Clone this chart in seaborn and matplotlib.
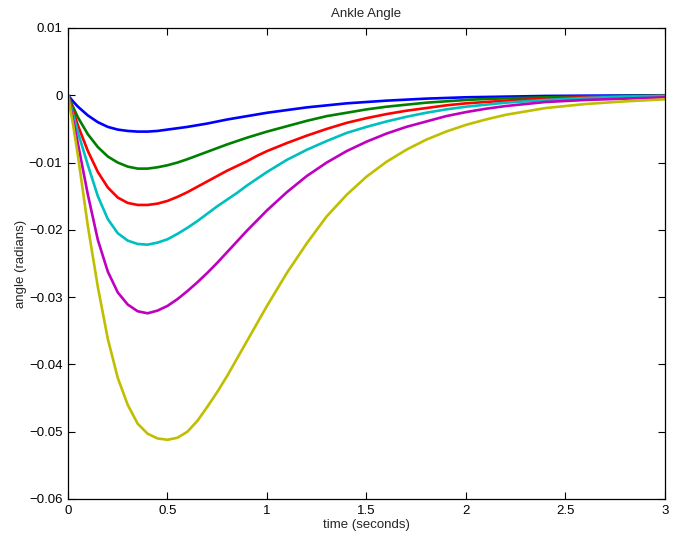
import numpy as np
import pandas as pd
import seaborn as sns
import matplotlib
matplotlib.use("Agg")
import matplotlib.pyplot as plt
from matplotlib.ticker import FuncFormatter

# time samples (seconds)
t = [0, 0.025, 0.05, 0.1, 0.15, 0.2, 0.25, 0.3, 0.35, 0.4, 0.45, 0.5, 0.55,
     0.6, 0.65, 0.7, 0.75, 0.8, 0.85, 0.9, 0.95, 1.0, 1.1, 1.2, 1.3, 1.4,
     1.5, 1.6, 1.7, 1.8, 1.9, 2.0, 2.1, 2.2, 2.4, 2.6, 2.8, 3.0]

blue = [0, -0.0009, -0.0017, -0.0030, -0.0040, -0.0047, -0.0051, -0.0053,
        -0.0054, -0.0054, -0.0053, -0.0051, -0.0049, -0.0047, -0.00445,
        -0.0042, -0.0039, -0.0036, -0.00335, -0.0031, -0.00285, -0.0026,
        -0.0022, -0.0018, -0.0015, -0.0012, -0.0010, -0.0008, -0.00065,
        -0.0005, -0.0004, -0.0003, -0.00025, -0.0002, -0.0001, -0.00006,
        -0.00003, 0]
green = [0, -0.0017, -0.0033, -0.0058, -0.0077, -0.0091, -0.0100, -0.0106,
         -0.0109, -0.0109, -0.0107, -0.0104, -0.0100, -0.0095, -0.00895,
         -0.0084, -0.00785, -0.0073, -0.0068, -0.0063, -0.00585, -0.0054,
         -0.0046, -0.0038, -0.0031, -0.0026, -0.0021, -0.0017, -0.0014,
         -0.0011, -0.0009, -0.0007, -0.00055, -0.00045, -0.0003, -0.0002,
         -0.0001, -0.00005]
red = [0, -0.0023, -0.0045, -0.0083, -0.0114, -0.0137, -0.0152, -0.0160,
       -0.0163, -0.0163, -0.0161, -0.0157, -0.0151, -0.0144, -0.0136,
       -0.0128, -0.0120, -0.0112, -0.0105, -0.0098, -0.0090, -0.0083,
       -0.0071, -0.0060, -0.0050, -0.0041, -0.0034, -0.0028, -0.0023,
       -0.0019, -0.0015, -0.0012, -0.0010, -0.0008, -0.0005, -0.0003,
       -0.0002, -0.0001]
cyan = [0, -0.0028, -0.0055, -0.0104, -0.0150, -0.0184, -0.0205, -0.0216,
        -0.0221, -0.0222, -0.0219, -0.0214, -0.0206, -0.0197, -0.0187,
        -0.0176, -0.0165, -0.0155, -0.0145, -0.0134, -0.0124, -0.0114,
        -0.0096, -0.0081, -0.0068, -0.0056, -0.0047, -0.0039, -0.0032,
        -0.0026, -0.0021, -0.0017, -0.0014, -0.0011, -0.0007, -0.0004,
        -0.0002, -0.0001]
magenta = [0, -0.0036, -0.0072, -0.0148, -0.0215, -0.0262, -0.0293,
           -0.0311, -0.0321, -0.0324, -0.0320, -0.0313, -0.0303, -0.0291,
           -0.0278, -0.0264, -0.0249, -0.0233, -0.0217, -0.0201, -0.0186,
           -0.0171, -0.0144, -0.0120, -0.0100, -0.0083, -0.0069, -0.0057,
           -0.0047, -0.0039, -0.0031, -0.0025, -0.0020, -0.0016, -0.0010,
           -0.0007, -0.0005, -0.0003]
yellow = [0, -0.0043, -0.0090, -0.0195, -0.0285, -0.0362, -0.0420, -0.0460,
          -0.0488, -0.0503, -0.0510, -0.0512, -0.0509, -0.0500, -0.0484,
          -0.0463, -0.0441, -0.0417, -0.0391, -0.0365, -0.0339, -0.0313,
          -0.0264, -0.0220, -0.0180, -0.0148, -0.0121, -0.0099, -0.0081,
          -0.0066, -0.0054, -0.0044, -0.0036, -0.0029, -0.0019, -0.0013,
          -0.0009, -0.0006]

series = {"s1": blue, "s2": green, "s3": red, "s4": cyan, "s5": magenta, "s6": yellow}
colors = [(0, 0, 1), (0, 0.5, 0), (1, 0, 0), (0, 0.75, 0.75),
          (0.75, 0, 0.75), (0.75, 0.75, 0)]

df = pd.concat([pd.DataFrame({"time": t, "angle": v, "run": k})
                for k, v in series.items()], ignore_index=True)

sns.set_style("ticks")
plt.rcParams['font.family'] = ['Liberation Sans', 'DejaVu Sans']
plt.rcParams['font.size'] = 9.5

fig = plt.figure(figsize=(6.78, 5.33), dpi=100)
ax = fig.add_axes([0.1003, 0.0638, 0.8805, 0.8837])

sns.lineplot(data=df, x="time", y="angle", hue="run", palette=colors,
             estimator=None, sort=False, linewidth=1.9, legend=False, ax=ax)

ax.set_xlim(0, 3)
ax.set_ylim(-0.06, 0.01)
ax.set_xticks([0, 0.5, 1, 1.5, 2, 2.5, 3])
ax.set_yticks([-0.06, -0.05, -0.04, -0.03, -0.02, -0.01, 0, 0.01])
fmt = FuncFormatter(lambda v, p: ("%g" % round(v, 4)).replace("-", "\u2212"))
ax.xaxis.set_major_formatter(fmt)
ax.yaxis.set_major_formatter(fmt)
ax.tick_params(direction="in", length=5, width=0.8, top=True, right=True,
               labelsize=9.5, colors="black", pad=4)
for s in ax.spines.values():
    s.set_visible(True)
    s.set_linewidth(0.9)
    s.set_color("black")

ax.set_title("Ankle Angle", fontsize=9.5, pad=8)
ax.set_xlabel("time (seconds)", fontsize=9.5, labelpad=2)
ax.set_ylabel("angle (radians)", fontsize=9.5, labelpad=1)

fig.savefig("out.png", dpi=100)
